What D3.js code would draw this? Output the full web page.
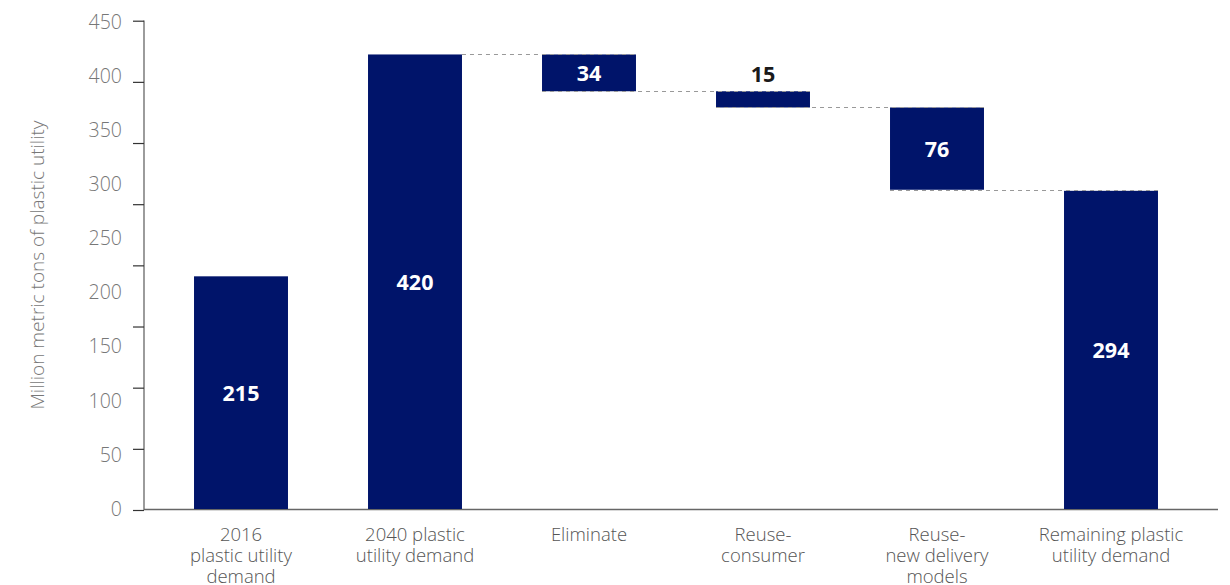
<!DOCTYPE html>
<html><head><meta charset="utf-8">
<script src="https://cdn.jsdelivr.net/npm/d3@7"></script>
<style>
html,body{margin:0;padding:0;background:#fff;}
svg text{font-family:"Open Sans",Lato,sans-serif;}
</style></head>
<body><svg id="c" width="1230" height="585"></svg>
<script>
const categories = ["2016\nplastic utility\ndemand","2040 plastic\nutility demand","Eliminate","Reuse-\nconsumer","Reuse-\nnew delivery\nmodels","Remaining plastic\nutility demand"];
const kinds = ["total","total","decrease","decrease","decrease","total"];
const values = [215, 420, 34, 15, 76, 294];
const yTickLabels = [0,50,100,150,200,250,300,350,400,450];
const yTitle = "Million metric tons of plastic utility";

const navy = "#00146a";
const svg = d3.select("#c");

const x = d3.scaleBand().domain(categories).range([154,1198]).paddingInner(0.46).paddingOuter(0.23);
const y = d3.scaleLinear().domain([0,450]).range([509,22]);
const yMarks = d3.scaleLinear().domain([0,450]).range([510,20.7]);

let running = 0;
const segs = categories.map((c,i)=>{
  let lo, hi;
  if(kinds[i]==="total"){ lo=0; hi=values[i]; running=values[i]; }
  else { hi=running; lo=running-values[i]; running=lo; }
  return {c, v:values[i], lo, hi, kind:kinds[i], i};
});

const gY = svg.append("g").attr("transform","translate(144,0)")
  .call(d3.axisLeft(yMarks).tickValues(d3.range(0,450.01,450/8)).tickFormat("").tickSize(11).tickSizeOuter(0));
gY.select(".domain").attr("stroke","#666").attr("stroke-width",1.3).attr("d","M0,20.5V510");
gY.selectAll(".tick line").attr("stroke","#333").attr("stroke-width",1.2);

const gL = svg.append("g").attr("transform","translate(122,0)")
  .call(d3.axisLeft(y).tickValues(yTickLabels).tickSize(0).tickPadding(0));
gL.select(".domain").remove();
gL.selectAll("text").attr("fill","#777").style("font-size","19.5px").style("font-family","'Open Sans',Lato,sans-serif").style("font-weight","300");

svg.append("line").attr("x1",144).attr("x2",1218).attr("y1",509.5).attr("y2",509.5).attr("stroke","#666").attr("stroke-width",1.3);

svg.append("text").attr("transform","translate(44,265) rotate(-90)").attr("text-anchor","middle")
  .attr("fill","#777").style("font-size","19px").style("font-weight","300").text(yTitle);

svg.append("g").selectAll("rect").data(segs).join("rect")
  .attr("x",d=>x(d.c)).attr("width",x.bandwidth())
  .attr("y",d=>y(d.hi)).attr("height",d=>y(d.lo)-y(d.hi))
  .attr("fill",navy);

const conn = [];
for(let i=1;i<segs.length;i++){
  const prev=segs[i-1];
  const level = prev.kind==="total" ? prev.hi : prev.lo;
  if(segs[i].kind==="total" && i===1) continue;
  conn.push({x1:x(prev.c)+ (prev.kind==="total"? x.bandwidth():0), x2:x(segs[i].c)+x.bandwidth(), level});
}
svg.append("g").selectAll("line").data(conn).join("line")
  .attr("x1",d=>d.x1).attr("x2",d=>d.x2)
  .attr("y1",d=>Math.round(y(d.level))+0.5).attr("y2",d=>Math.round(y(d.level))+0.5)
  .attr("stroke","#999").attr("stroke-width",1).attr("stroke-dasharray","4,4");

svg.append("g").selectAll("text").data(segs).join("text")
  .attr("x",d=>x(d.c)+x.bandwidth()/2)
  .attr("y",d=>{
    const h=y(d.lo)-y(d.hi);
    if(h<25) return y(d.hi)-9;
    return (y(d.lo)+y(d.hi))/2+8;
  })
  .attr("text-anchor","middle")
  .attr("fill",d=>(y(d.lo)-y(d.hi))<25?"#1a1a1a":"#fff")
  .style("font-size","21.5px").style("font-weight","700")
  .text(d=>d.v);

const cl = svg.append("g").selectAll("text").data(categories).join("text")
  .attr("x",d=>x(d)+x.bandwidth()/2).attr("y",541)
  .attr("text-anchor","middle").attr("fill","#555")
  .style("font-size","18.5px").style("font-weight","300");
cl.each(function(d){
  const t=d3.select(this);
  d.split("\n").forEach((line,k)=>{
    t.append("tspan").attr("x",x(d)+x.bandwidth()/2).attr("dy",k===0?0:21).text(line);
  });
});
</script></body></html>
